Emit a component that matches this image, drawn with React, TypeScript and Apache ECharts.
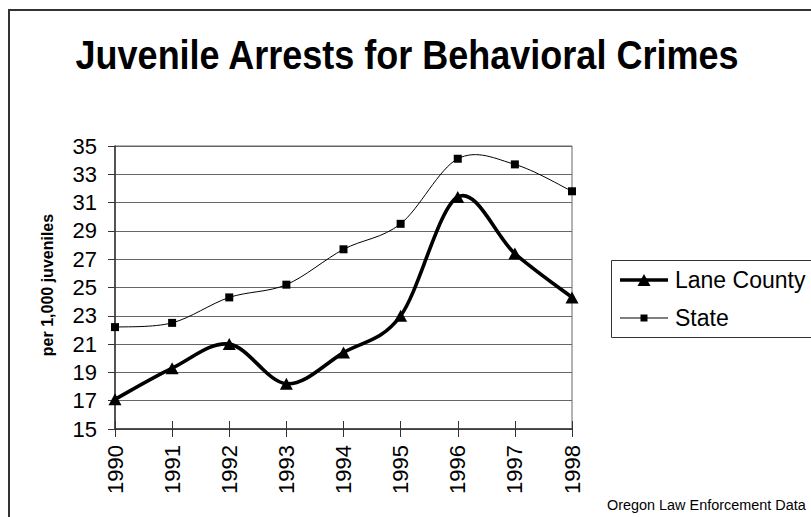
import React, { useEffect, useRef } from "react";
import * as echarts from "echarts";

const years = ["1990", "1991", "1992", "1993", "1994", "1995", "1996", "1997", "1998"];
const laneCounty = [17.1, 19.3, 21.0, 18.2, 20.4, 23.0, 31.4, 27.4, 24.3];
const state = [22.2, 22.5, 24.3, 25.2, 27.7, 29.5, 34.1, 33.7, 31.8];
const seriesNames = ["Lane County", "State"];
const titleText = "Juvenile Arrests for Behavioral Crimes";
const yAxisName = "per 1,000 juveniles";
const sourceText = "Oregon Law Enforcement Data";

const FONT = "'Liberation Sans', Arial, sans-serif";

// Smooth curve (Excel-like Catmull-Rom Bezier) drawn through the axis scales
function smoothCurve(width: number) {
  return (params: any, api: any) => {
    const i = params.dataIndexInside;
    const n = params.dataInsideLength;
    if (i >= n - 1) return { type: "group", children: [] };
    const pt = (k: number) => api.coord([api.value(0, k), api.value(1, k)]);
    const p0 = pt(Math.max(i - 1, 0));
    const p1 = pt(i);
    const p2 = pt(i + 1);
    const p3 = pt(Math.min(i + 2, n - 1));
    return {
      type: "bezierCurve",
      shape: {
        x1: p1[0],
        y1: p1[1],
        x2: p2[0],
        y2: p2[1],
        cpx1: p1[0] + (p2[0] - p0[0]) / 6,
        cpy1: p1[1] + (p2[1] - p0[1]) / 6,
        cpx2: p2[0] - (p3[0] - p1[0]) / 6,
        cpy2: p2[1] - (p3[1] - p1[1]) / 6,
      },
      style: { stroke: "#000", lineWidth: width, fill: "none", lineCap: "round" },
    };
  };
}

export default function App() {
  const ref = useRef<HTMLDivElement>(null);
  useEffect(() => {
    if (!ref.current) return;
    const chart = echarts.init(ref.current, null, { renderer: "svg" });
    const legX = 603;
    const legY = 252;
    const lanePairs = laneCounty.map((v, i) => [i, v]);
    const statePairs = state.map((v, i) => [i, v]);
    const option: any = {
      animation: false,
      backgroundColor: "#fff",
      textStyle: { fontFamily: FONT },
      grid: {
        left: 107,
        right: 239,
        top: 138,
        bottom: 88,
        show: true,
        borderColor: "#666",
        borderWidth: 1,
        backgroundColor: "transparent",
      },
      xAxis: [
        {
          type: "category",
          data: years,
          boundaryGap: false,
          position: "bottom",
          axisLine: { show: true, lineStyle: { color: "#333", width: 1.5 } },
          axisTick: { show: true, length: 8, lineStyle: { color: "#333", width: 1 } },
          axisLabel: { rotate: 90, fontSize: 22, color: "#000", margin: 16, fontFamily: FONT },
          splitLine: { show: false },
        },
        {
          type: "category",
          data: years,
          boundaryGap: false,
          position: "bottom",
          axisLine: { show: false },
          axisTick: { show: true, inside: true, length: 8, lineStyle: { color: "#333", width: 1 } },
          axisLabel: { show: false },
          splitLine: { show: false },
        },
      ],
      yAxis: {
        type: "value",
        min: 15,
        max: 35,
        interval: 2,
        axisLine: { show: true, lineStyle: { color: "#333", width: 1.5 } },
        axisTick: { show: true, length: 7, lineStyle: { color: "#333" } },
        axisLabel: { fontSize: 22, color: "#000", margin: 18, fontFamily: FONT },
        splitLine: { show: true, lineStyle: { color: "#666", width: 1 } },
      },
      series: [
        {
          name: seriesNames[0] + " curve",
          type: "custom",
          xAxisIndex: 0,
          data: lanePairs,
          encode: { x: 0, y: 1 },
          renderItem: smoothCurve(3.6),
          z: 4,
          silent: true,
        },
        {
          name: seriesNames[1] + " curve",
          type: "custom",
          xAxisIndex: 0,
          data: statePairs,
          encode: { x: 0, y: 1 },
          renderItem: smoothCurve(1),
          z: 3,
          silent: true,
        },
        {
          name: seriesNames[0],
          type: "scatter",
          xAxisIndex: 0,
          data: laneCounty,
          symbol: "triangle",
          symbolSize: [13, 12],
          itemStyle: { color: "#000", opacity: 1 },
          z: 6,
        },
        {
          name: seriesNames[1],
          type: "scatter",
          xAxisIndex: 0,
          data: state,
          symbol: "rect",
          symbolSize: 8,
          itemStyle: { color: "#000", opacity: 1 },
          z: 5,
        },
      ],
      graphic: [
        {
          type: "rect",
          shape: { x: 1, y: 2, width: 900, height: 700 },
          style: { fill: "none", stroke: "#333", lineWidth: 2 },
          silent: true,
        },
        {
          type: "text",
          x: 399,
          y: 47,
          scaleX: 0.9,
          style: {
            text: titleText,
            fontSize: 40,
            fontWeight: "bold",
            fontFamily: FONT,
            fill: "#000",
            align: "center",
            verticalAlign: "middle",
          },
        },
        {
          type: "text",
          x: 39,
          y: 277,
          rotation: Math.PI / 2,
          style: {
            text: yAxisName,
            fontSize: 16,
            fontWeight: "bold",
            fontFamily: FONT,
            fill: "#000",
            align: "center",
            verticalAlign: "middle",
          },
        },
        {
          type: "rect",
          shape: { x: legX + 0.5, y: legY + 0.5, width: 220, height: 77 },
          style: { fill: "#fff", stroke: "#333", lineWidth: 1 },
        },
        {
          type: "line",
          shape: { x1: 612, y1: 272, x2: 660, y2: 272 },
          style: { stroke: "#000", lineWidth: 3.5 },
        },
        {
          type: "polygon",
          shape: { points: [[629.5, 278], [642.5, 278], [636, 266]] },
          style: { fill: "#000" },
        },
        {
          type: "text",
          x: 667,
          y: 272,
          style: {
            text: seriesNames[0],
            fontSize: 23,
            fontFamily: FONT,
            fill: "#000",
            align: "left",
            verticalAlign: "middle",
          },
        },
        {
          type: "line",
          shape: { x1: 612, y1: 310, x2: 660, y2: 310 },
          style: { stroke: "#000", lineWidth: 1 },
        },
        {
          type: "rect",
          shape: { x: 632.5, y: 306.5, width: 7, height: 7 },
          style: { fill: "#000" },
        },
        {
          type: "text",
          x: 667,
          y: 310,
          style: {
            text: seriesNames[1],
            fontSize: 23,
            fontFamily: FONT,
            fill: "#000",
            align: "left",
            verticalAlign: "middle",
          },
        },
        {
          type: "text",
          x: 599,
          y: 497,
          scaleX: 1.03,
          style: {
            text: sourceText,
            fontSize: 14,
            fontFamily: FONT,
            fill: "#000",
            align: "left",
            verticalAlign: "middle",
          },
        },
      ],
    };
    chart.setOption(option);
    return () => {
      chart.dispose();
    };
  }, []);
  return (
    <div
      ref={ref}
      style={{ position: "fixed", left: 8, top: 8, width: 803, height: 509 }}
    />
  );
}
